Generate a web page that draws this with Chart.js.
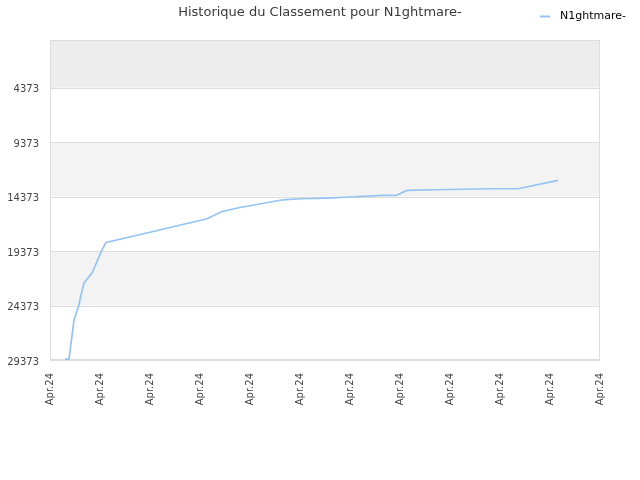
<!DOCTYPE html>
<html>
<head>
<meta charset="utf-8">
<script src="https://cdn.jsdelivr.net/npm/chart.js@4/dist/chart.umd.min.js"></script>
<style>
html,body{margin:0;padding:0;background:#fff;}
#wrap{width:640px;height:480px;position:relative;}
</style>
</head>
<body>
<div id="wrap"><canvas id="c" width="640" height="480"></canvas></div>
<script>
const titleText = "Historique du Classement pour N1ghtmare-";
const seriesName = "N1ghtmare-";
const xTickLabels = ["Apr.24","Apr.24","Apr.24","Apr.24","Apr.24","Apr.24","Apr.24","Apr.24","Apr.24","Apr.24","Apr.24","Apr.24"];
const yTicks = [4373, 9373, 14373, 19373, 24373, 29373];
const xPos = [0.30, 0.38, 0.48, 0.58, 0.62, 0.68, 0.84, 1.04, 1.12, 2.00, 3.14, 3.44, 3.80, 4.66, 5.00, 5.54, 6.10, 6.64, 6.92, 7.14, 7.70, 8.80, 9.36, 10.16];
const ranks = [29300, 29300, 25700, 24300, 23400, 22300, 21400, 19260, 18590, 17650, 16412, 15741, 15374, 14666, 14574, 14510, 14390, 14271, 14271, 13811, 13747, 13655, 13655, 12892];

const points = xPos.map((x, i) => ({x: x, y: ranks[i]}));

const bandPlugin = {
  id: 'bands',
  beforeDatasetsDraw(chart) {
    const {ctx, chartArea: a, scales: {y}} = chart;
    const bands = [[y.min, yTicks[0], '#ededed'], [yTicks[1], yTicks[2], '#f3f3f3'], [yTicks[3], yTicks[4], '#f3f3f3']];
    ctx.save();
    bands.forEach(b => {
      const p1 = y.getPixelForValue(b[0]);
      const p2 = y.getPixelForValue(b[1]);
      ctx.fillStyle = b[2];
      ctx.fillRect(a.left, Math.min(p1, p2), a.right - a.left, Math.abs(p2 - p1));
    });
    ctx.strokeStyle = '#dddddd';
    ctx.lineWidth = 1;
    yTicks.forEach(t => {
      const p = Math.round(y.getPixelForValue(t)) + 0.5;
      ctx.beginPath(); ctx.moveTo(a.left, p); ctx.lineTo(a.right, p); ctx.stroke();
    });
    ctx.strokeRect(a.left + 0.5, a.top + 0.5, a.right - a.left - 1, a.bottom - a.top - 1);
    ctx.restore();
  }
};

const headerPlugin = {
  id: 'header',
  afterDraw(chart) {
    const ctx = chart.ctx;
    ctx.save();
    ctx.font = '13px "DejaVu Sans"';
    ctx.fillStyle = '#3a3a3a';
    ctx.textAlign = 'center';
    ctx.textBaseline = 'middle';
    ctx.fillText(titleText, 320, 13);
    const ds = chart.data.datasets[0];
    ctx.strokeStyle = ds.borderColor;
    ctx.lineWidth = 2;
    ctx.beginPath(); ctx.moveTo(540, 16.5); ctx.lineTo(550, 16.5); ctx.stroke();
    ctx.font = '11px "DejaVu Sans"';
    ctx.fillStyle = '#000000';
    ctx.textAlign = 'left';
    ctx.fillText(ds.label, 560, 16);
    ctx.restore();
  }
};

new Chart(document.getElementById('c'), {
  type: 'line',
  data: {
    datasets: [{
      label: seriesName,
      data: points,
      borderColor: '#93c4f4',
      backgroundColor: '#93c4f4',
      borderWidth: 1.7,
      pointRadius: 0,
      tension: 0,
      fill: false
    }]
  },
  options: {
    responsive: false,
    animation: false,
    layout: {padding: {top: 40, right: 40, left: 0, bottom: 0}},
    plugins: {legend: {display: false}, title: {display: false}, tooltip: {enabled: false}},
    scales: {
      x: {
        type: 'linear',
        min: 0,
        max: 11,
        afterBuildTicks(scale) { scale.ticks = xTickLabels.map((l, i) => ({value: i})); },
        afterFit(scale) { scale.height = 120; },
        grid: {display: false, drawTicks: false},
        border: {display: false},
        ticks: {
          autoSkip: false,
          maxRotation: 90,
          minRotation: 90,
          padding: 13,
          color: '#444444',
          font: {family: 'DejaVu Sans', size: 10},
          callback: (v, i) => xTickLabels[i]
        }
      },
      y: {
        type: 'linear',
        reverse: true,
        min: 0,
        max: 29373,
        afterBuildTicks(scale) { scale.ticks = yTicks.map(v => ({value: v})); },
        afterFit(scale) { scale.width = 50; },
        grid: {display: false, drawTicks: false},
        border: {display: false},
        ticks: {
          padding: 11,
          labelOffset: 2,
          color: '#444444',
          font: {family: 'DejaVu Sans', size: 10},
          callback: v => String(v)
        }
      }
    }
  },
  plugins: [bandPlugin, headerPlugin]
});
</script>
</body>
</html>
